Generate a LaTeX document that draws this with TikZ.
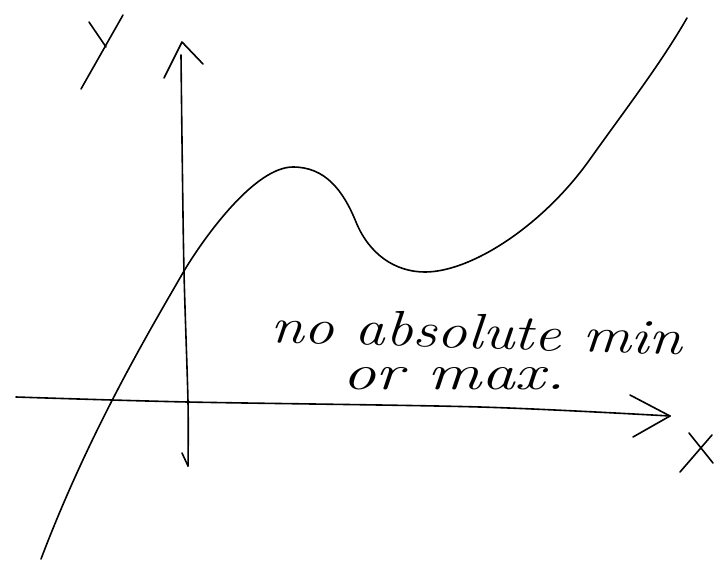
\documentclass[tikz,border=0pt]{standalone}
\usepackage{graphicx}
\tikzset{
  ink/.style={line width=1.6pt, line cap=round, line join=round, black},
  note/.style={inner sep=0pt, font=\fontsize{50}{56}\selectfont\itshape}
}
\begin{document}
\begin{tikzpicture}[x=1pt,y=-1pt]
\useasboundingbox (0,0) rectangle (728,571);
% y axis
\draw[ink] plot[smooth] coordinates {(181,55) (182,140) (184,272) (188,402) (188,466)};
\draw[ink] (182,453) -- (188,466);
\draw[ink] (164,78) -- (182,42) -- (203,64);
% y label
\draw[ink] (89,22) -- (106,47);
\draw[ink] (123,15) -- (81,89);
% x axis
\draw[ink] plot[smooth] coordinates {(16,397) (188,402) (480,407) (670,416)};
\draw[ink] (630,395) -- (670,416) -- (633,437);
% x label
\draw[ink] (689,433) -- (713,463);
\draw[ink] (712,435) -- (680,472);
% curve
\draw[ink] (41,559) .. controls (90,430) and (150,330) .. (184,271)
  .. controls (205,236) and (255,167) .. (293,167)
  .. controls (325,167) and (343,190) .. (356,222)
  .. controls (369,254) and (395,272) .. (425,272)
  .. controls (470,272) and (540,228) .. (588,162)
  .. controls (622,114) and (660,65) .. (687,18);
% text
\node[note, anchor=base west, rotate=-1.8] (t1) at (270,342) {\resizebox{412pt}{\height}{no absolute min}};
\node[note, anchor=base west] (t2) at (342,389) {\resizebox{223pt}{\height}{or max.}};
\end{tikzpicture}
\end{document}
